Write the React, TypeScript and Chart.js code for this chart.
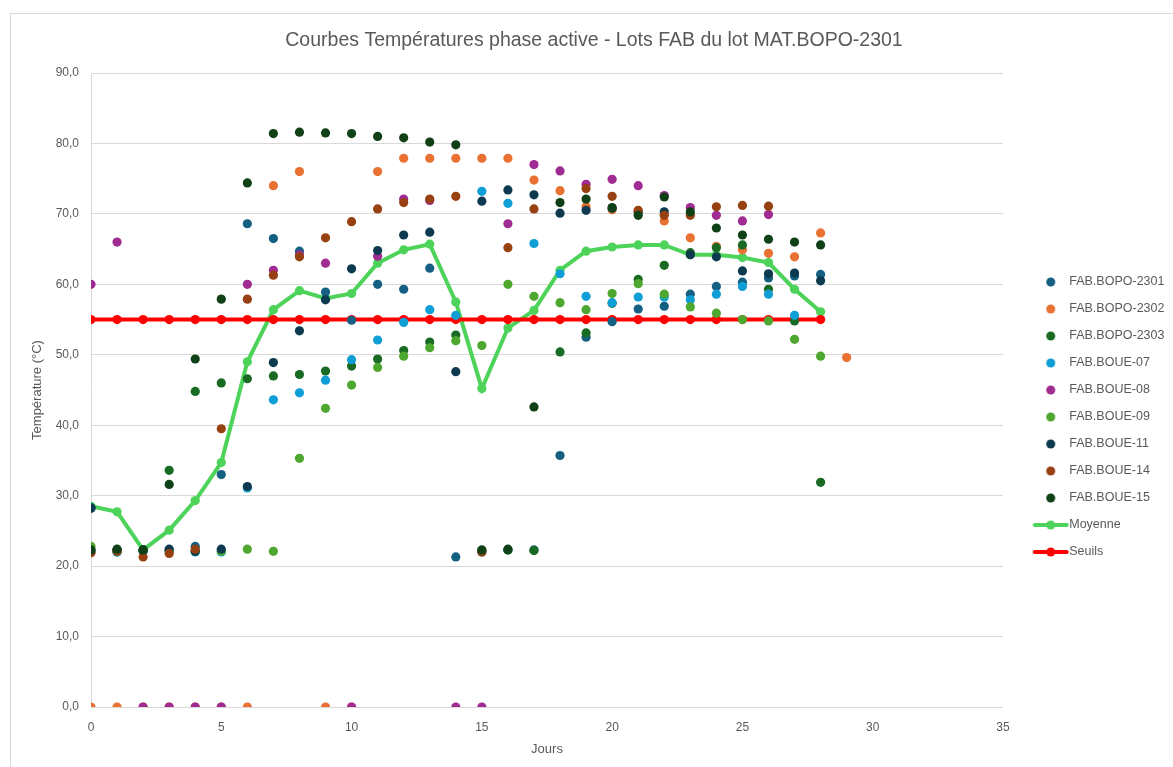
import React, { useEffect, useRef } from "react";
import { Chart, registerables } from "chart.js";

Chart.register(...registerables);

const TITLE = "Courbes Températures phase active - Lots FAB du lot MAT.BOPO-2301";
const X_TITLE = "Jours";
const Y_TITLE = "Température (°C)";

const days = [0, 1, 2, 3, 4, 5, 6, 7, 8, 9, 10, 11, 12, 13, 14, 15, 16, 17, 18, 19, 20, 21, 22, 23, 24, 25, 26, 27, 28, 29];

const bopo2301 = [28.3, 22.0, 22.1, 22.2, 22.8, 33.0, 68.6, 66.5, 64.7, 58.9, 54.9, 60.0, 59.3, 62.3, 21.3, 22.0, 22.3, 22.3, 35.7, 52.5, 54.7, 56.5, 56.9, 58.6, 59.7, 60.3, 60.9, 61.2, 61.4, null];
const bopo2302 = [0, 0, 0, 0, 0, 0, 0, 74.0, 76.0, 0, 0, 76.0, 77.9, 77.9, 77.9, 77.9, 77.9, 74.8, 73.3, 71.0, 70.6, 70.3, 69.0, 66.6, 65.4, 64.9, 64.4, 63.9, 67.3, 49.6];
const bopo2303 = [22.3, 22.3, 22.2, 33.6, 44.8, 46.0, 46.6, 47.0, 47.2, 47.7, 48.4, 49.4, 50.6, 51.8, 52.8, 22.2, 22.3, 22.2, 50.4, 53.1, 57.3, 60.7, 62.7, 64.5, 65.2, 65.6, 59.3, 54.8, 31.9, null];
const boue07 = [22.0, 22.0, 22.2, 22.1, 22.0, 22.0, 31.1, 43.6, 44.6, 46.4, 49.3, 52.1, 54.6, 56.4, 55.6, 73.2, 71.5, 65.8, 61.5, 58.3, 57.4, 58.2, 58.2, 57.8, 58.6, 59.7, 58.6, 55.6, null, null];
const boue08 = [60.0, 66.0, 0, 0, 0, 0, 60.0, 62.0, 64.2, 63.0, 0, 64.0, 72.1, 71.9, 0, 0, 68.6, 77.0, 76.1, 74.2, 74.9, 74.0, 72.6, 70.9, 69.8, 69.0, 69.9, null, null, null];
const boue09 = [22.8, 22.1, 22.3, 22.2, 22.1, 22.1, 22.4, 22.1, 35.3, 42.4, 45.7, 48.2, 49.8, 51.0, 52.0, 51.3, 60.0, 58.3, 57.4, 56.4, 58.7, 60.1, 58.6, 56.8, 55.9, 55.0, 54.8, 52.2, 49.8, null];
const boue11 = [28.2, 22.3, 22.3, 22.4, 22.1, 22.4, 31.3, 48.9, 53.4, 57.8, 62.2, 64.8, 67.0, 67.4, 47.6, 71.8, 73.4, 72.7, 70.1, 70.5, 70.8, 70.3, 70.3, 64.2, 63.9, 61.9, 61.5, 61.6, 60.5, null];
const boue14 = [21.9, 22.1, 21.3, 21.8, 22.4, 39.5, 57.9, 61.3, 63.9, 66.6, 68.9, 70.7, 71.6, 72.1, 72.5, 22.0, 65.2, 70.7, null, 73.6, 72.5, 70.5, 69.8, 69.8, 71.0, 71.2, 71.1, null, null, null];
const boue15 = [22.3, 22.4, 22.3, 31.6, 49.4, 57.9, 74.4, 81.4, 81.6, 81.5, 81.4, 81.0, 80.8, 80.2, 79.8, 22.3, 22.4, 42.6, 71.6, 72.1, 70.9, 69.8, 72.4, 70.3, 68.0, 67.0, 66.4, 66.0, 65.6, null];
const moyenne = [28.5, 27.7, 22.3, 25.1, 29.3, 34.7, 49.0, 56.4, 59.1, 58.0, 58.7, 63.0, 64.9, 65.7, 57.5, 45.2, 53.8, 56.3, 62.0, 64.7, 65.3, 65.6, 65.6, 64.2, 64.2, 63.8, 63.1, 59.3, 56.1, null];
const seuils = [55, 55, 55, 55, 55, 55, 55, 55, 55, 55, 55, 55, 55, 55, 55, 55, 55, 55, 55, 55, 55, 55, 55, 55, 55, 55, 55, 55, 55, null];

const scatterSeries = [
  { label: "FAB.BOPO-2301", values: bopo2301, color: "#156082" },
  { label: "FAB.BOPO-2302", values: bopo2302, color: "#E97132" },
  { label: "FAB.BOPO-2303", values: bopo2303, color: "#196B24" },
  { label: "FAB.BOUE-07", values: boue07, color: "#0F9ED5" },
  { label: "FAB.BOUE-08", values: boue08, color: "#A02B93" },
  { label: "FAB.BOUE-09", values: boue09, color: "#4EA72E" },
  { label: "FAB.BOUE-11", values: boue11, color: "#0D3A4E" },
  { label: "FAB.BOUE-14", values: boue14, color: "#974011" },
  { label: "FAB.BOUE-15", values: boue15, color: "#0F4016" },
];
const lineSeries = [
  { label: "Moyenne", values: moyenne, color: "#4DD35A" },
  { label: "Seuils", values: seuils, color: "#FF0000" },
];

const FONT = "'Liberation Sans Narrow', 'Liberation Sans', Arial, sans-serif";
const TEXT = "#595959";

function makeMarker(color: string, withLine: boolean): HTMLCanvasElement {
  const c = document.createElement("canvas");
  c.width = 64;
  c.height = 14;
  const ctx = c.getContext("2d")!;
  const cx = 42.5;
  const cy = 7;
  if (withLine) {
    ctx.strokeStyle = color;
    ctx.lineWidth = 4;
    ctx.lineCap = "round";
    ctx.beginPath();
    ctx.moveTo(cx - 16, cy);
    ctx.lineTo(cx + 16, cy);
    ctx.stroke();
  }
  ctx.fillStyle = color;
  ctx.beginPath();
  ctx.arc(cx, cy, 4.5, 0, Math.PI * 2);
  ctx.fill();
  return c;
}

export default function App() {
  const ref = useRef<HTMLCanvasElement>(null);

  useEffect(() => {
    const canvas = ref.current!;
    const toPts = (vals: (number | null)[]) =>
      days
        .map((d, i) => ({ x: d, y: vals[i] }))
        .filter((p) => p.y !== null && p.y !== undefined);

    const datasets: any[] = [];
    const markers: HTMLCanvasElement[] = [];
    scatterSeries.forEach((s, i) => {
      datasets.push({
        label: s.label,
        data: toPts(s.values),
        showLine: false,
        backgroundColor: s.color,
        borderColor: s.color,
        pointRadius: 4.6,
        pointBorderWidth: 0,
        pointHoverRadius: 4.6,
        order: 9 - i,
      });
      markers.push(makeMarker(s.color, false));
    });
    lineSeries.forEach((s, i) => {
      datasets.push({
        label: s.label,
        data: toPts(s.values),
        showLine: true,
        borderColor: s.color,
        backgroundColor: s.color,
        borderWidth: 4,
        pointRadius: 4.6,
        pointBorderWidth: 0,
        pointBackgroundColor: s.color,
        order: 20 - i,
      });
      markers.push(makeMarker(s.color, true));
    });

    const chart = new Chart(canvas, {
      type: "scatter",
      data: { datasets },
      options: {
        animation: false,
        responsive: false,
        devicePixelRatio: 1,
        layout: { padding: { left: 15, right: 0, top: 0, bottom: 0 } },
        plugins: {
          title: {
            display: true,
            text: TITLE,
            color: TEXT,
            font: { size: 19.5, family: FONT, weight: "normal" },
            padding: { top: 29, bottom: 20.6 },
          },
          legend: {
            position: "right",
            maxWidth: 170,
            title: {
              display: true,
              text: "",
              font: { size: 13, family: FONT },
              padding: { top: 51.4, bottom: 0 },
            },
            labels: {
              usePointStyle: true,
              pointStyleWidth: 45.5,
              padding: 14.5,
              boxHeight: 13,
              color: TEXT,
              font: { size: 12.5, family: FONT },
              generateLabels: (ch: any) =>
                ch.data.datasets.map((ds: any, i: number) => ({
                  text: ds.label,
                  pointStyle: markers[i],
                  fillStyle: ds.borderColor,
                  strokeStyle: ds.borderColor,
                  lineWidth: 0,
                  hidden: false,
                  datasetIndex: i,
                  fontColor: TEXT,
                })),
            },
          },
          tooltip: { enabled: false },
        },
        scales: {
          x: {
            type: "linear",
            min: 0,
            max: 35,
            ticks: { stepSize: 5, padding: 5, color: TEXT, font: { size: 12, family: FONT } },
            grid: { display: false },
            border: { display: false },
            title: {
              display: true,
              text: X_TITLE,
              color: TEXT,
              font: { size: 13, family: FONT },
              padding: { top: 8, bottom: 10 },
            },
            afterFit: (s: any) => {
              s.height = 60;
            },
          },
          y: {
            type: "linear",
            min: 0,
            max: 90,
            ticks: {
              stepSize: 10,
              padding: 12,
              color: TEXT,
              font: { size: 12, family: FONT },
              callback: (v: any) => Number(v).toFixed(1).replace(".", ","),
            },
            grid: { color: "#d9d9d9", lineWidth: 1, drawTicks: false },
            border: { display: true, color: "#d9d9d9" },
            title: {
              display: true,
              text: Y_TITLE,
              color: TEXT,
              font: { size: 13, family: FONT },
              padding: { top: 15, bottom: 0 },
            },
            afterFit: (s: any) => {
              s.width = 76;
            },
          },
        },
      } as any,
    });
    return () => chart.destroy();
  }, []);

  return (
    <div
      style={{
        position: "fixed",
        left: 0,
        top: 0,
        width: 1173,
        height: 767,
        overflow: "hidden",
        background: "#ffffff",
      }}
    >
      <div
        style={{
          position: "absolute",
          left: 10,
          top: 13,
          width: 1300,
          height: 900,
          border: "1px solid #d9d9d9",
        }}
      />
      <canvas
        ref={ref}
        width={1173}
        height={767}
        style={{ position: "absolute", left: 0, top: 0, width: 1173, height: 767 }}
      />
    </div>
  );
}
